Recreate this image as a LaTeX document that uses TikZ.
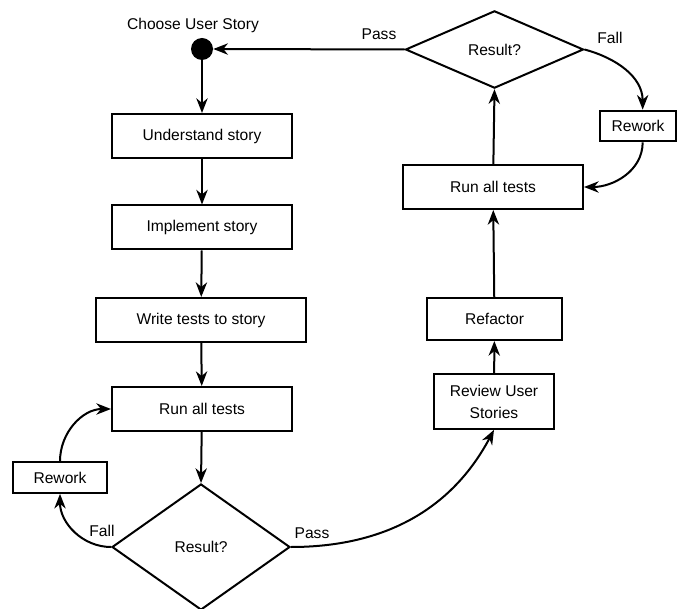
\documentclass[tikz,border=0pt]{standalone}
\usepackage{fontspec}
\setmainfont{Liberation Sans}
\usetikzlibrary{shapes.geometric,arrows.meta}
\begin{document}
\begin{tikzpicture}[x=0.75pt,y=-0.75pt,
  every node/.style={font=\fontsize{11.7}{16.5}\selectfont},
  box/.style={draw, line width=1.5pt, inner sep=0pt, minimum height=33pt, align=center},
  dia/.style={draw, diamond, line width=1.5pt, inner sep=0pt},
  arr/.style={line width=1.5pt, -{Stealth[length=11pt,width=8.5pt,inset=3.5pt]}},
  lbl/.style={inner sep=0pt}]
\useasboundingbox (0,0) rectangle (678,609);
% nodes
\node[circle, fill=black, minimum size=16.5pt, inner sep=0pt] (start) at (202,49) {};
\node[lbl] (startlbl) at (193,25) {Choose User Story};
\node[box, minimum width=135pt] (u) at (202,136) {Understand story};
\node[box, minimum width=135pt] (i) at (202,227.5) {Implement story};
\node[box, minimum width=157.5pt] (w) at (201,320) {Write tests to story};
\node[box, minimum width=135pt] (r1) at (202,409) {Run all tests};
\node[dia, minimum width=133.5pt, minimum height=94.5pt] (d1) at (201,547) {Result?};
\node[box, minimum width=70.5pt, minimum height=23pt] (rwl) at (60,477.5) {Rework};
\node[box, minimum width=90pt, minimum height=41pt] (rv) at (494,401.5) {Review User\\Stories};
\node[box, minimum width=101pt, minimum height=31.5pt] (rf) at (494.5,319) {Refactor};
\node[box, minimum width=135pt] (r2) at (493,187) {Run all tests};
\node[dia, minimum width=133.5pt, minimum height=58pt] (d2) at (494.5,49.5) {Result?};
\node[box, minimum width=57pt, minimum height=23pt] (rwr) at (638,126) {Rework};
% labels
\node[lbl] (p2) at (379,34) {Pass};
\node[lbl] (f2) at (610,38) {Fall};
\node[lbl] (f1) at (102,531) {Fall};
\node[lbl] (p1) at (312,533) {Pass};
% connectors
\draw[arr] (start) -- (u);
\draw[arr] (u) -- (i);
\draw[arr] (i) -- (w);
\draw[arr] (w) -- (r1);
\draw[arr] (r1) -- (d1.north);
\draw[arr] (d1.west) to[out=180,in=-90] (rwl.south);
\draw[arr] (rwl.north) to[out=90,in=180] (r1.west);
\draw[arr] (d1.east) to[out=0,in=-118] (rv.south);
\draw[arr] (rv) -- (rf);
\draw[arr] (rf) -- (r2);
\draw[arr] (r2) -- (d2.south);
\draw[arr] (d2.west) -- (start.east);
\draw[arr] (d2.east) to[out=-15,in=90] ([xshift=3.5pt]rwr.north);
\draw[arr] ([xshift=3.5pt]rwr.south) to[out=-90,in=0] (r2.east);
\end{tikzpicture}
\end{document}
